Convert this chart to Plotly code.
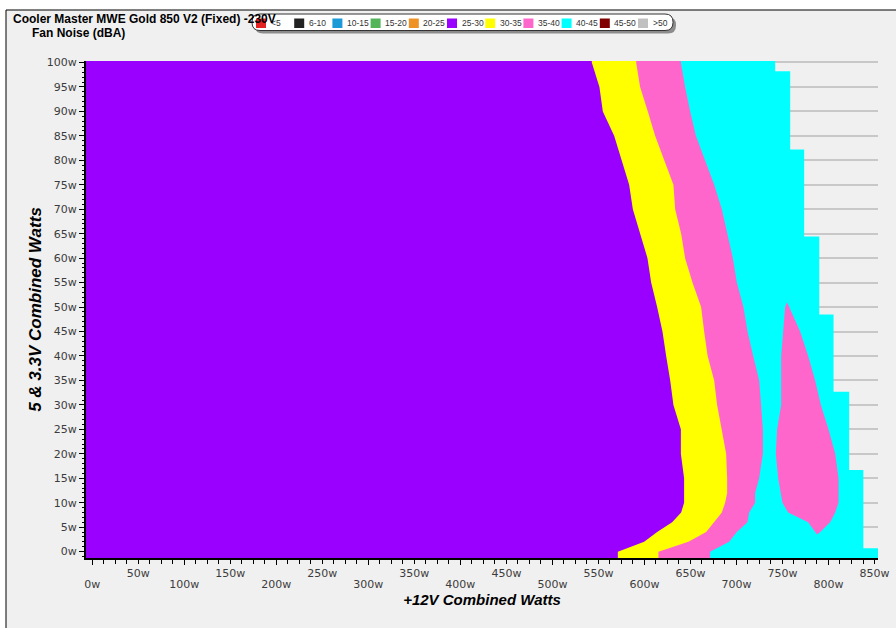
import plotly.graph_objects as go

# ---------------------------------------------------------------------------
# Fan-noise map: +12V load (x) vs 5V/3.3V load (y), banded by noise level
# ---------------------------------------------------------------------------

# 5V + 3.3V combined load rows (W) at which the band edges are given
rows_w = [0, 2, 4, 6, 8, 10, 12, 15, 20, 25, 30, 35, 40, 45, 50,
          55, 60, 65, 70, 75, 80, 85, 90, 95, 100]

# +12V load (W) where each noise band ends, per row
edge_25_30 = [571.1, 599.7, 613.8, 630.1, 639.9, 643.1, 643.1, 643.1, 639.6, 639.6,
              631.5, 628.0, 623.6, 619.6, 613.8, 607.3, 603.3, 595.3, 587.4, 583.4,
              575.0, 567.1, 554.8, 551.1, 542.8]
edge_30_35 = [615.2, 647.8, 667.1, 675.8, 684.1, 687.7, 689.9, 689.9, 688.8, 683.9,
              679.0, 675.8, 668.7, 664.9, 661.6, 652.2, 644.2, 639.9, 633.4, 631.5,
              621.4, 611.6, 603.7, 595.3, 591.0]
edge_35_40 = [671.4, 692.1, 700.4, 712.0, 713.8, 720.3, 720.3, 724.7, 728.7, 728.7,
              726.8, 724.7, 718.2, 712.0, 707.6, 700.4, 696.1, 689.9, 684.1, 675.8,
              666.0, 655.9, 649.7, 644.2, 639.6]

# Outer limit of the 40-45 band: a staircase (step heights in W on the y axis)
limit_steps_w = [0.7, 16.7, 32.7, 48.5, 64.4, 82.2, 98.2]
limit_edge_w = [856.0, 837.9, 822.5, 805.5, 790.0, 773.6, 758.4, 742.1]

# Isolated 35-40 pocket inside the 40-45 band
pocket_rows = [4, 6, 8, 10, 12, 15, 20, 25, 30, 35, 40, 45, 50]
pocket_left = [785.5, 777.9, 756.2, 750.0, 748.6, 745.3, 742.8, 744.2, 748.6,
               748.6, 748.6, 750.8, 752.9]
pocket_right = [791.0, 801.8, 807.3, 810.9, 810.9, 810.9, 807.3, 800.0, 791.7,
                785.5, 777.9, 769.2, 757.3]
pocket_tip = (755.1, 51.0)
pocket_base = (787.7, 3.5)

# Legend bands
legend_labels = ["<5", "6-10", "10-15", "15-20", "20-25", "25-30",
                 "30-35", "35-40", "40-45", "45-50", ">50"]
legend_colors = ["#e32222", "#222222", "#1a9ad6", "#53b45a", "#ee9226", "#9900ff",
                 "#ffff00", "#ff66cc", "#00ffff", "#800000", "#c0c0c0"]
band_color = dict(zip(legend_labels, legend_colors))

# Axis ticks
x_ticks_low = [0, 100, 200, 300, 400, 500, 600, 700, 800]
x_ticks_high = [50, 150, 250, 350, 450, 550, 650, 750, 850]
y_ticks = list(range(0, 101, 5))

# ---------------------------------------------------------------------------
FIG_W, FIG_H = 896, 628
L, R, T, B = 86, 878, 61, 558          # plot area in pixels
X_RANGE = [-6.8, 853.8]
Y_RANGE = [-1.3, 100.3]
X_LO = X_RANGE[0] - 20
Y_LO, Y_HI = Y_RANGE[0] - 1, Y_RANGE[1] + 1


def px(xp):
    return (xp - L) / (R - L)


def py(yp):
    return (B - yp) / (B - T)


def band_shape(rows, edge):
    xs = [X_LO, edge[0]] + list(edge) + [edge[-1], X_LO]
    ys = [Y_LO, Y_LO] + list(rows) + [Y_HI, Y_HI]
    return xs, ys


def stair_shape(steps, edge):
    xs, ys = [X_LO, edge[0]], [Y_LO, Y_LO]
    for i, s in enumerate(steps):
        xs += [edge[i], edge[i + 1]]
        ys += [s, s]
    xs += [edge[-1], X_LO]
    ys += [Y_HI, Y_HI]
    return xs, ys


def area(xs, ys, color):
    return go.Scatter(x=xs, y=ys, mode="lines", fill="toself", fillcolor=color,
                      line=dict(width=0, color=color), hoverinfo="skip",
                      showlegend=False)


fig = go.Figure()
fig.add_trace(area(*stair_shape(limit_steps_w, limit_edge_w), band_color["40-45"]))
fig.add_trace(area(*band_shape(rows_w, edge_35_40), band_color["35-40"]))
fig.add_trace(area(*band_shape(rows_w, edge_30_35), band_color["30-35"]))
fig.add_trace(area(*band_shape(rows_w, edge_25_30), band_color["25-30"]))

pk_x = [pocket_tip[0]] + pocket_left[::-1] + [pocket_base[0]] + pocket_right
pk_y = [pocket_tip[1]] + pocket_rows[::-1] + [pocket_base[1]] + pocket_rows
fig.add_trace(area(pk_x, pk_y, band_color["35-40"]))

# invisible trace so the secondary tick row has its own axis
fig.add_trace(go.Scatter(x=[X_RANGE[0]], y=[Y_RANGE[0]], xaxis="x2", mode="markers",
                         marker=dict(opacity=0), hoverinfo="skip", showlegend=False))

tick_font = dict(family="DejaVu Sans", size=11, color="#3c3c3c")
title_font = dict(family="Liberation Sans", size=15, color="black")

fig.update_layout(
    width=FIG_W, height=FIG_H,
    margin=dict(l=L, r=FIG_W - R, t=T, b=FIG_H - B, pad=0),
    paper_bgcolor="white", plot_bgcolor="#f0f0f0",
    showlegend=False,
    xaxis=dict(range=X_RANGE, tickmode="array", tickvals=x_ticks_low,
               ticktext=[f"{v}w" for v in x_ticks_low], tickfont=tick_font,
               ticks="outside", ticklen=5, tickcolor="black", ticklabelstandoff=10,
               minor=dict(tickmode="linear", tick0=0, dtick=12.5, ticks="outside",
                          ticklen=4, tickcolor="black"),
               showline=True, linecolor="black", linewidth=2, showgrid=False,
               zeroline=False, automargin=False,
               title=dict(text="<b><i>+12V Combined Watts</i></b>", font=title_font,
                          standoff=2)),
    xaxis2=dict(range=X_RANGE, overlaying="x", side="bottom", tickmode="array",
                tickvals=x_ticks_high, ticktext=[f"{v}w" for v in x_ticks_high],
                tickfont=tick_font, ticks="outside", ticklen=5, tickcolor="black",
                showline=False, showgrid=False, zeroline=False, automargin=False),
    yaxis=dict(range=Y_RANGE, tickmode="array", tickvals=y_ticks,
               ticktext=[f"{v}w" for v in y_ticks], tickfont=tick_font,
               ticks="outside", ticklen=5, tickcolor="black",
               minor=dict(tickmode="linear", tick0=0, dtick=1, ticks="outside",
                          ticklen=2, tickcolor="black"),
               showline=True, linecolor="black", linewidth=2, automargin=False,
               showgrid=True, gridcolor="#c8c8c8", gridwidth=1.5, zeroline=False,
               title=dict(text="<b><i>5 & 3.3V Combined Watts</i></b>",
                          font=dict(family="Liberation Sans", size=17, color="black"),
                          standoff=1)),
)

shapes = [
    # panel frame
    dict(type="rect", xref="paper", yref="paper", layer="below",
         x0=px(6), x1=px(920), y0=py(650), y1=py(10),
         fillcolor="#f0f0f0", line=dict(color="black", width=1)),
]


def rounded_rect(x0, y0, x1, y1, r):
    rx, ry = r / (R - L), r / (B - T)
    a, b_, c, d = px(x0), px(x1), py(y1), py(y0)
    return (f"M {a + rx},{d} L {b_ - rx},{d} Q {b_},{d} {b_},{d - ry} "
            f"L {b_},{c + ry} Q {b_},{c} {b_ - rx},{c} L {a + rx},{c} "
            f"Q {a},{c} {a},{c + ry} L {a},{d - ry} Q {a},{d} {a + rx},{d} Z")


# legend box with drop shadow
shapes.append(dict(type="path", xref="paper", yref="paper", layer="above",
                   path=rounded_rect(255, 17, 676, 33.5, 8),
                   fillcolor="#8c8c8c", line=dict(width=0)))
shapes.append(dict(type="path", xref="paper", yref="paper", layer="above",
                   path=rounded_rect(252, 14, 673, 30.5, 8),
                   fillcolor="white", line=dict(color="#333333", width=1)))

annotations = []
for i, (lab, col) in enumerate(zip(legend_labels, legend_colors)):
    sx = 256 + 38.2 * i
    shapes.append(dict(type="rect", xref="paper", yref="paper", layer="above",
                       x0=px(sx), x1=px(sx + 10), y0=py(28), y1=py(18.5),
                       fillcolor=col, line=dict(width=0)))
    annotations.append(dict(xref="paper", yref="paper", x=px(sx + 12.5), y=py(23.3),
                            xanchor="left", yanchor="middle", showarrow=False,
                            text=lab, font=dict(family="Liberation Sans", size=8.5,
                                                color="#333333")))

annotations.append(dict(xref="paper", yref="paper", x=px(11), y=py(18.5),
                        xanchor="left", yanchor="middle", showarrow=False,
                        text="<b>Cooler Master MWE Gold 850 V2 (Fixed) -230V</b>",
                        font=dict(family="Liberation Sans", size=12, color="black")))
annotations.append(dict(xref="paper", yref="paper", x=px(30), y=py(32.5),
                        xanchor="left", yanchor="middle", showarrow=False,
                        text="<b>Fan Noise (dBA)</b>",
                        font=dict(family="Liberation Sans", size=12, color="black")))

fig.update_layout(shapes=shapes, annotations=annotations)

fig.write_html("out.html")
